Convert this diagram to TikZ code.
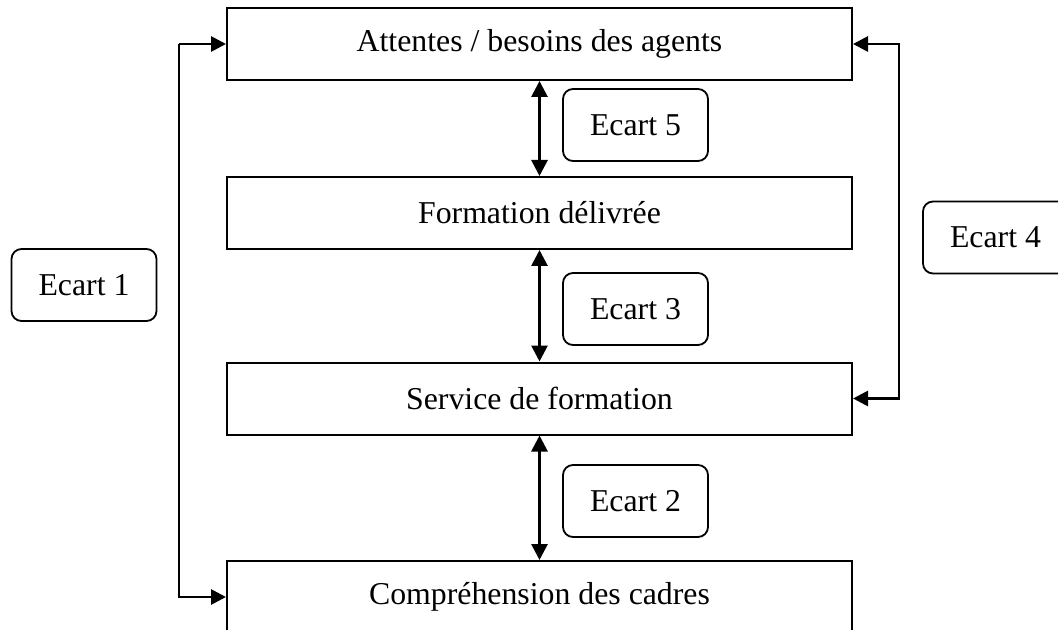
\documentclass[tikz,border=0pt]{standalone}
\usepackage{fontspec}
\setmainfont{Liberation Serif}
\usepackage{tikz}
\usetikzlibrary{positioning,arrows.meta}

\tikzset{
    level/.style={draw, line width=1pt, rectangle, minimum width=312.5pt,
        minimum height=36pt, inner sep=0pt},
    gap/.style={draw, line width=0.9pt, rounded corners=5pt,
        minimum width=72.5pt, minimum height=36pt, inner sep=0pt},
    link/.style={line width=1.4pt, {Triangle[length=8pt,width=8pt]}-{Triangle[length=8pt,width=8pt]}},
    feed/.style={line width=1.4pt, -{Triangle[length=7.5pt,width=7.5pt]}},
}

\begin{document}
\begin{tikzpicture}[x=0.5pt, y=-0.5pt, font=\fontsize{15.9}{18}\selectfont]
    \useasboundingbox (0,0) rectangle (1058,630);
    \clip (0,0) rectangle (1058,630);

    % the four levels
    \node[level] (attentes) at (539.5,44) {Attentes / besoins des agents};
    \node[level] (delivree) at (539.5,213) {Formation délivrée};
    \node[level] (service) at (539.5,398.5) {Service de formation};
    \node[level] (cadres) at (539.5,597) {Compréhension des cadres};

    % gaps between levels
    \node[gap] (e5) at (635.5,125) {Ecart 5};
    \node[gap] (e3) at (635.5,309) {Ecart 3};
    \node[gap] (e2) at (635.5,501) {Ecart 2};
    \node[gap] (e1) at (84,285) {Ecart 1};
    \node[gap] (e4) at (995.5,237.5) {Ecart 4};

    \draw[link] (attentes.south) -- (delivree.north);
    \draw[link] (delivree.south) -- (service.north);
    \draw[link] (service.south) -- (cadres.north);

    % outer loops
    \coordinate (l1) at (179,44);
    \coordinate (l2) at (179,597);
    \draw[feed] (l1) |- (attentes.west);
    \draw[feed] (l1) |- (l2) -- (cadres.west);
    \coordinate (r1) at (899,44);
    \coordinate (r2) at (899,398.5);
    \draw[feed] (r2) |- (attentes.east);
    \draw[feed] (r1) |- (r2) -- (service.east);
\end{tikzpicture}
\end{document}
